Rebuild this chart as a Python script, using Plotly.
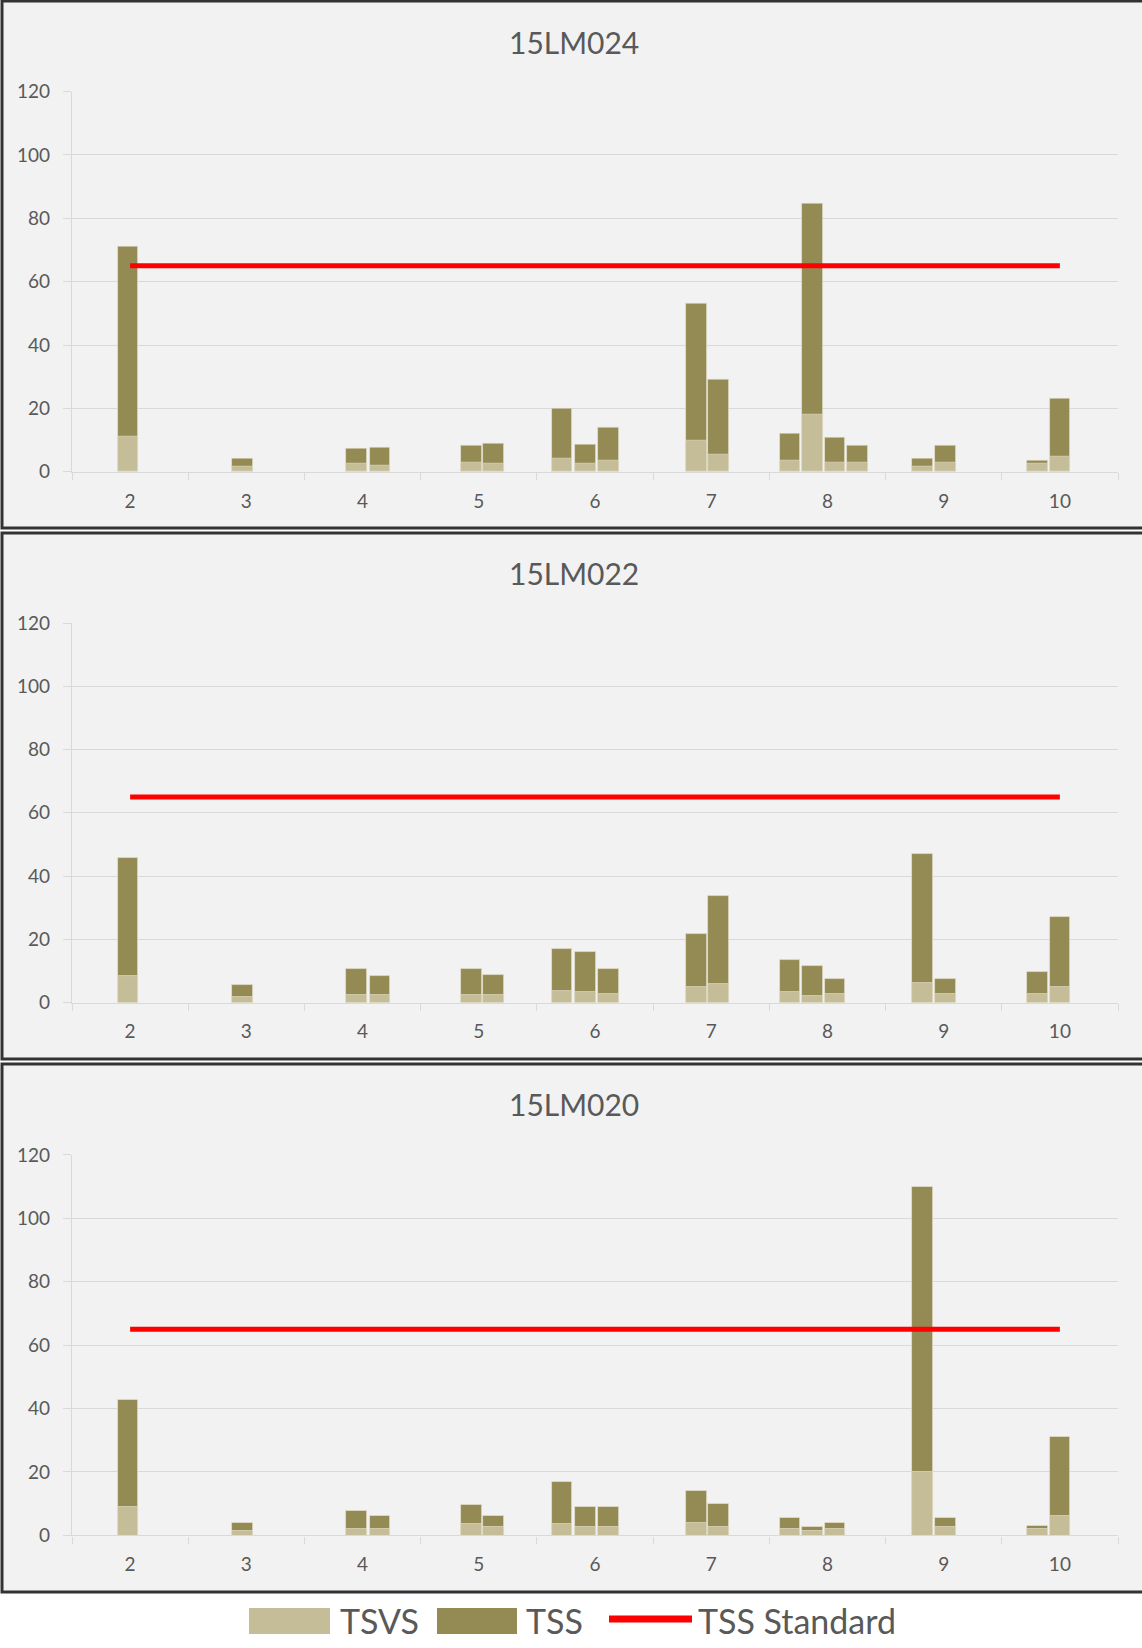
import plotly.graph_objects as go

# ---------------- data ----------------
months = [2, 3, 4, 5, 6, 7, 8, 9, 10]
month_labels = ["2", "3", "4", "5", "6", "7", "8", "9", "10"]
days_in_month = {2: 28, 3: 31, 4: 30, 5: 31, 6: 30, 7: 31, 8: 31, 9: 30, 10: 31}

# sampling events (month, day of month)
sample_month = [2, 3, 4, 4, 5, 5, 6, 6, 6, 7, 7, 8, 8, 8, 8, 9, 9, 10, 10]
sample_day = [14, 15, 14, 20, 14, 20, 7, 13, 19, 12, 18, 6, 12, 18, 24, 10, 16, 10, 16]

sites = ["15LM024", "15LM022", "15LM020"]

tss_15LM024 = [71, 4.1, 7.2, 7.6, 8.4, 9.0, 19.8, 8.7, 13.8, 53, 29, 12.2, 84.8, 10.9, 8.3, 4.1, 8.3, 3.5, 23.2]
tsvs_15LM024 = [11, 1.6, 2.5, 2.0, 3.0, 2.5, 4.2, 2.5, 3.6, 9.8, 5.4, 3.6, 17.9, 3.0, 2.8, 1.6, 2.8, 2.5, 4.7]

tss_15LM022 = [45.7, 5.4, 10.6, 8.4, 10.6, 8.7, 16.9, 15.9, 10.6, 21.8, 33.6, 13.5, 11.7, 7.3, None, 46.8, 7.3, 9.8, 26.9]
tsvs_15LM022 = [8.4, 1.6, 2.4, 2.4, 2.4, 2.4, 3.5, 3.2, 2.8, 5.0, 5.7, 3.3, 2.2, 2.8, None, 6.1, 2.8, 2.8, 5.0]

tss_15LM020 = [42.7, 3.9, 7.7, 6.1, 9.5, 6.1, 16.9, 8.9, 8.9, 13.9, 9.9, 5.6, 2.8, 3.9, None, 110, 5.6, 3.1, 31.0]
tsvs_15LM020 = [8.9, 1.4, 2.0, 2.0, 3.7, 2.6, 3.7, 2.8, 2.8, 3.9, 2.8, 2.0, 1.5, 2.0, None, 19.9, 2.6, 1.9, 6.1]

tss_standard = 65

y_ticks = [0, 20, 40, 60, 80, 100, 120]

# ---------------- styling ----------------
W, H = 1142, 1648
C_TSVS = "#C4BD97"
C_TSS = "#948A54"
C_STD = "#FF0000"
C_TEXT = "#595959"
C_GRID = "#D9D9D9"
FONT = "Lato, 'Open Sans', sans-serif"
BAR_W = 0.178


def fx(x):
    return x / W


def fy(y):
    return 1 - y / H


# panel geometry in pixels: (box_top, box_bottom, plot_top, plot_bottom, title_y)
panels = [
    (1, 528, 91.6, 471.8, 42),
    (533, 1059, 623, 1002.5, 572.5),
    (1064, 1592, 1154.9, 1535.4, 1104),
]
PLOT_L, PLOT_R = 72, 1118

x_pos = [m - 0.5 + (d - 0.5) / days_in_month[m] for m, d in zip(sample_month, sample_day)]

site_data = [
    (tss_15LM024, tsvs_15LM024),
    (tss_15LM022, tsvs_15LM022),
    (tss_15LM020, tsvs_15LM020),
]

fig = go.Figure()
shapes = []
annotations = []

for i, (site, (tss, tsvs), geo) in enumerate(zip(sites, site_data, panels)):
    box_t, box_b, p_t, p_b, title_y = geo
    sfx = "" if i == 0 else str(i + 1)
    xa, ya = "x" + sfx, "y" + sfx

    fig.add_trace(go.Bar(
        x=x_pos, y=tss, width=BAR_W, name="TSS",
        marker=dict(color=C_TSS, line=dict(color="rgba(235,232,215,0.7)", width=0.8)),
        xaxis=xa, yaxis=ya, showlegend=False,
    ))
    fig.add_trace(go.Bar(
        x=x_pos, y=tsvs, width=BAR_W, name="TSVS",
        marker=dict(color=C_TSVS, line=dict(color="rgba(235,232,215,0.7)", width=0.8)),
        xaxis=xa, yaxis=ya, showlegend=False,
    ))
    fig.add_trace(go.Scatter(
        x=months, y=[tss_standard] * len(months), mode="lines", name="TSS Standard",
        line=dict(color=C_STD, width=5),
        xaxis=xa, yaxis=ya, showlegend=False,
    ))

    xkey = "xaxis" + sfx
    ykey = "yaxis" + sfx
    fig.layout[xkey] = dict(
        domain=[fx(PLOT_L), fx(PLOT_R)], anchor=ya, range=[1.5, 10.5], automargin=False,
        tickmode="array", tickvals=months, ticktext=month_labels, ticks="",
        showgrid=False, zeroline=False, showline=True, linecolor=C_GRID, linewidth=1.3,
        tickfont=dict(family=FONT, size=19, color=C_TEXT), ticklabelstandoff=12,
        minor=dict(tickmode="array", tickvals=[m - 0.5 for m in months] + [months[-1] + 0.5],
                   ticks="outside", ticklen=7, tickcolor=C_GRID, tickwidth=1.3, showgrid=False),
    )
    fig.layout[ykey] = dict(
        domain=[fy(p_b), fy(p_t)], anchor=xa, range=[0, 120], automargin=False,
        tickmode="array", tickvals=y_ticks, ticks="outside", ticklen=8, tickcolor=C_GRID,
        tickwidth=1.3, showgrid=True, gridcolor=C_GRID, gridwidth=1.3, zeroline=False,
        showline=True, linecolor=C_GRID, linewidth=1.3,
        tickfont=dict(family=FONT, size=19, color=C_TEXT), ticklabelstandoff=9,
    )

    # panel box
    shapes.append(dict(type="rect", xref="paper", yref="paper", layer="below",
                       x0=fx(2), x1=fx(W + 6), y0=fy(box_b), y1=fy(box_t),
                       fillcolor="#F2F2F2", line=dict(color="#333333", width=3)))
    annotations.append(dict(text=site, xref="paper", yref="paper", x=fx(574), y=fy(title_y),
                            xanchor="center", yanchor="middle", showarrow=False,
                            font=dict(family=FONT, size=30, color=C_TEXT)))

# ---------------- custom legend ----------------
LEG_Y = 1620
shapes.append(dict(type="rect", xref="paper", yref="paper", x0=fx(249), x1=fx(330),
                   y0=fy(1634), y1=fy(1608), fillcolor=C_TSVS, line=dict(width=0)))
shapes.append(dict(type="rect", xref="paper", yref="paper", x0=fx(437), x1=fx(517),
                   y0=fy(1634), y1=fy(1608), fillcolor=C_TSS, line=dict(width=0)))
shapes.append(dict(type="line", xref="paper", yref="paper", x0=fx(609), x1=fx(692),
                   y0=fy(1619), y1=fy(1619), line=dict(color=C_STD, width=7)))
for txt, x in [("TSVS", 338), ("TSS", 524), ("TSS Standard", 696)]:
    annotations.append(dict(text=txt, xref="paper", yref="paper", x=fx(x), y=fy(LEG_Y),
                            xanchor="left", yanchor="middle", showarrow=False,
                            font=dict(family=FONT, size=34, color=C_TEXT)))

fig.update_layout(
    width=W, height=H, margin=dict(l=0, r=0, t=0, b=0, autoexpand=False),
    paper_bgcolor="white", plot_bgcolor="rgba(0,0,0,0)",
    barmode="overlay", bargap=0, showlegend=False,
    shapes=shapes, annotations=annotations,
    font=dict(family=FONT, color=C_TEXT),
)

fig.write_html(
    "out.html",
    config={"displayModeBar": False},
    post_script="document.body.style.margin='0';document.body.style.overflow='hidden';",
)
